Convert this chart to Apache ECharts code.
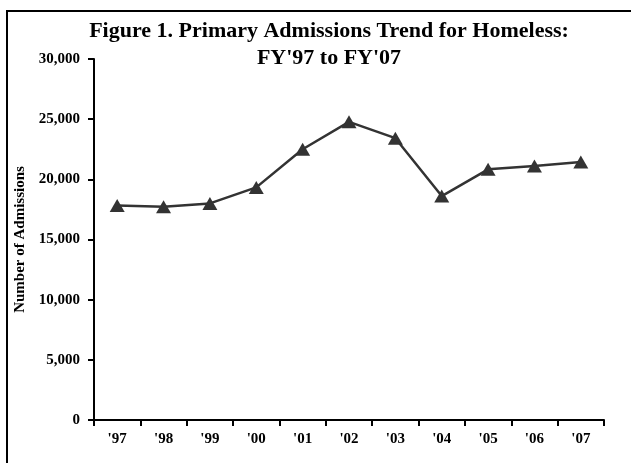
<!DOCTYPE html>
<html>
<head>
<meta charset="utf-8">
<script src="https://cdn.jsdelivr.net/npm/echarts@6/dist/echarts.min.js"></script>
<style>html,body{margin:0;padding:0;background:#fff;}#c{width:631px;height:463px;}</style>
</head>
<body>
<div id="c"></div>
<script>
var categories = ["'97", "'98", "'99", "'00", "'01", "'02", "'03", "'04", "'05", "'06", "'07"];
var admissions = [17830, 17720, 18000, 19330, 22500, 24780, 23420, 18610, 20830, 21100, 21440];
var titleLines = ["Figure 1. Primary Admissions Trend for Homeless:", "FY'97 to FY'07"];
var yAxisName = "Number of Admissions";

var serif = '"Liberation Serif", "Times New Roman", serif';
var chart = echarts.init(document.getElementById('c'), null, {renderer: 'canvas'});
chart.setOption({
  animation: false,
  backgroundColor: '#fff',
  graphic: [
    {type: 'rect', shape: {x: 7, y: 11, width: 720, height: 600}, style: {fill: 'none', stroke: '#000', lineWidth: 2}, silent: true},
    {type: 'text', x: 329, y: 18, style: {text: titleLines.join('\n'), textAlign: 'center', fill: '#000', font: 'bold 22px ' + serif, lineHeight: 27}}
  ],
  grid: {left: 94, top: 59, right: 27, bottom: 43, containLabel: false},
  xAxis: {
    type: 'category',
    data: categories,
    boundaryGap: true,
    axisLine: {lineStyle: {color: '#000', width: 2}},
    axisTick: {show: true, length: 6, lineStyle: {color: '#000', width: 2}},
    axisLabel: {color: '#000', fontFamily: serif, fontWeight: 'bold', fontSize: 15, margin: 12},
    splitLine: {show: false}
  },
  yAxis: {
    type: 'value',
    min: 0, max: 30000, interval: 5000,
    name: yAxisName,
    nameLocation: 'middle',
    nameGap: 66,
    nameTextStyle: {color: '#000', fontFamily: serif, fontWeight: 'bold', fontSize: 15, padding: [0, 0, 0, 0]},
    axisLine: {show: true, lineStyle: {color: '#000', width: 2}},
    axisTick: {show: true, length: 6, lineStyle: {color: '#000', width: 2}},
    axisLabel: {color: '#000', fontFamily: serif, fontWeight: 'bold', fontSize: 15, margin: 14,
      formatter: function (v) { return v.toLocaleString('en-US'); }},
    splitLine: {show: false}
  },
  series: [{
    type: 'line',
    data: admissions,
    symbol: 'triangle',
    symbolSize: [15, 13],
    lineStyle: {color: '#333', width: 2.5},
    itemStyle: {color: '#333'},
    z: 3
  }]
});
</script>
</body>
</html>
